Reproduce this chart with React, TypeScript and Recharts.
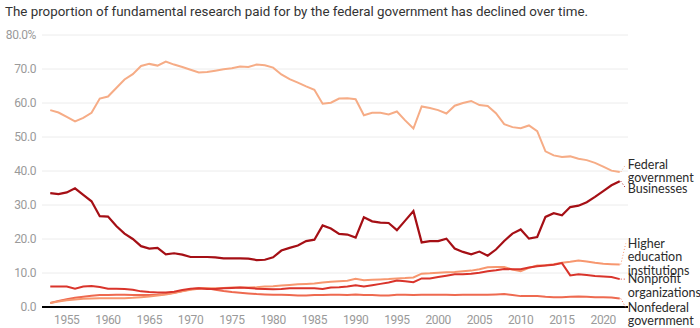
import { LineChart, Line, XAxis, YAxis, CartesianGrid, LabelList } from 'recharts';

const years = [
  1953, 1954, 1955, 1956, 1957, 1958, 1959, 1960, 1961, 1962,
  1963, 1964, 1965, 1966, 1967, 1968, 1969, 1970, 1971, 1972,
  1973, 1974, 1975, 1976, 1977, 1978, 1979, 1980, 1981, 1982,
  1983, 1984, 1985, 1986, 1987, 1988, 1989, 1990, 1991, 1992,
  1993, 1994, 1995, 1996, 1997, 1998, 1999, 2000, 2001, 2002,
  2003, 2004, 2005, 2006, 2007, 2008, 2009, 2010, 2011, 2012,
  2013, 2014, 2015, 2016, 2017, 2018, 2019, 2020, 2021, 2022,
];

const federal = [
  57.9, 57.2, 55.9, 54.6, 55.6, 57.1, 61.3, 61.9, 64.4, 66.9,
  68.5, 70.9, 71.5, 71.0, 72.2, 71.3, 70.6, 69.8, 69.0, 69.1,
  69.5, 69.9, 70.2, 70.7, 70.6, 71.3, 71.1, 70.4, 68.4, 67.0,
  66.0, 64.9, 63.9, 59.8, 60.1, 61.3, 61.4, 61.1, 56.4, 57.1,
  57.1, 56.6, 57.5, 54.9, 52.5, 59.0, 58.5, 57.9, 56.9, 59.2,
  60.0, 60.6, 59.4, 59.1, 57.0, 53.8, 52.9, 52.6, 53.4, 51.7,
  45.8, 44.6, 44.1, 44.3, 43.6, 43.2, 42.4, 41.3, 40.1, 39.7,
];

const businesses = [
  33.5, 33.2, 33.7, 34.9, 33.0, 31.1, 26.7, 26.6, 23.8, 21.6,
  20.0, 17.9, 17.2, 17.4, 15.5, 15.8, 15.4, 14.7, 14.7, 14.7,
  14.6, 14.3, 14.3, 14.3, 14.2, 13.8, 13.9, 14.6, 16.6, 17.4,
  18.1, 19.4, 19.8, 24.0, 23.1, 21.5, 21.3, 20.4, 26.4, 25.2,
  24.8, 24.7, 22.6, 25.4, 28.2, 19.0, 19.4, 19.4, 20.1, 17.2,
  16.2, 15.5, 16.3, 15.1, 16.9, 19.4, 21.6, 22.8, 20.1, 20.6,
  26.5, 27.6, 27.0, 29.4, 29.8, 30.8, 32.4, 34.1, 35.8, 37.0,
];

const higherEd = [
  1.2, 1.6, 2.0, 2.2, 2.4, 2.5, 2.6, 2.6, 2.6, 2.6,
  2.7, 2.9, 3.1, 3.4, 3.7, 4.1, 4.6, 5.1, 5.4, 5.5,
  5.5, 5.6, 5.7, 5.7, 5.7, 5.8, 6.0, 6.1, 6.3, 6.5,
  6.7, 6.8, 6.9, 7.2, 7.4, 7.6, 7.7, 8.3, 7.9, 8.0,
  8.1, 8.2, 8.4, 8.5, 8.7, 9.8, 9.9, 10.1, 10.2, 10.3,
  10.5, 10.7, 11.1, 11.7, 11.8, 11.8, 11.0, 10.5, 11.5, 12.2,
  12.3, 12.6, 13.0, 13.3, 13.7, 13.4, 13.0, 12.7, 12.6, 12.5,
];

const nonprofit = [
  6.0, 6.0, 6.0, 5.4, 6.0, 6.2, 5.9, 5.4, 5.4, 5.3,
  5.1, 4.6, 4.4, 4.3, 4.3, 4.5, 5.0, 5.4, 5.5, 5.3,
  5.3, 5.5, 5.6, 5.7, 5.6, 5.4, 5.3, 5.2, 5.3, 5.5,
  5.5, 5.5, 5.5, 5.3, 5.7, 5.8, 6.0, 6.4, 6.0, 6.4,
  6.8, 7.2, 7.8, 7.6, 7.3, 8.4, 8.4, 8.8, 9.2, 9.6,
  9.6, 9.8, 10.1, 10.5, 10.8, 11.2, 11.1, 11.1, 11.6, 12.0,
  12.2, 12.4, 12.9, 9.3, 9.6, 9.4, 9.1, 9.0, 8.8, 8.2,
];

const nonfederal = [
  1.2, 1.8, 2.3, 2.7, 3.0, 3.3, 3.5, 3.5, 3.6, 3.6,
  3.5, 3.5, 3.5, 3.6, 3.8, 4.2, 4.7, 5.2, 5.5, 5.5,
  5.1, 4.7, 4.4, 4.2, 4.0, 3.8, 3.7, 3.6, 3.6, 3.5,
  3.4, 3.4, 3.5, 3.5, 3.6, 3.6, 3.5, 3.7, 3.5, 3.5,
  3.4, 3.4, 3.6, 3.6, 3.5, 3.6, 3.6, 3.6, 3.6, 3.5,
  3.6, 3.6, 3.6, 3.6, 3.7, 3.8, 3.5, 3.2, 3.2, 3.2,
  3.0, 2.9, 2.9, 3.0, 3.1, 3.0, 2.9, 2.9, 2.8, 2.5,
];

const xTicks = [1955, 1960, 1965, 1970, 1975, 1980, 1985, 1990, 1995, 2000, 2005, 2010, 2015, 2020];
const yTicks = [0, 10, 20, 30, 40, 50, 60, 70, 80];

const title = 'The proportion of fundamental research paid for by the federal government has declined over time.';

const data = years.map((year, i) => ({
  year,
  federal: federal[i],
  businesses: businesses[i],
  higherEd: higherEd[i],
  nonprofit: nonprofit[i],
  nonfederal: nonfederal[i],
}));

const tickStyle = { fill: '#9a9a9a', fontSize: 12, fontFamily: 'Roboto, sans-serif', letterSpacing: -0.4 };

// label drawn at the last point of a line, with a short dotted leader
function endLabel(lines: string[], dy: number, color: string) {
  return (props: any) => {
    const { x, y, index } = props;
    if (index !== years.length - 1 || x == null || y == null) return null;
    const ty = y + dy;
    return (
      <g>
        <line x1={x + 1} y1={y} x2={x + 6} y2={ty} stroke={color} strokeWidth={1} strokeDasharray="1 2" />
        {lines.map((t, i) => (
          <text
            key={t}
            x={x + 8}
            y={ty + i * 13.5}
            dy="0.35em"
            fill="#2b2b2b"
            fontSize={12.5}
            fontFamily="Lato, sans-serif"
          >
            {t}
          </text>
        ))}
      </g>
    );
  };
}

export default function App() {
  return (
    <div style={{ position: 'absolute', left: 0, top: 0, width: 700, height: 328, background: '#fff' }}>
      <svg width={700} height={24} style={{ position: 'absolute', left: 0, top: 0 }}>
        <text
          x={5}
          y={16}
          fontSize={13.5}
          fill="#333"
          fontFamily="Roboto, sans-serif"
          textLength={583}
          lengthAdjust="spacingAndGlyphs"
        >
          {title}
        </text>
      </svg>
      <div style={{ position: 'absolute', left: 0, top: 0 }}>
        <LineChart width={700} height={328} data={data} margin={{ top: 35, right: 72, bottom: 0, left: 0 }}>
          <CartesianGrid vertical={false} stroke="#ececec" />
          <XAxis
            dataKey="year"
            type="number"
            domain={[1952, 2023]}
            ticks={xTicks}
            height={21}
            tickLine={false}
            axisLine={{ stroke: '#000', strokeWidth: 2 }}
            tick={tickStyle}
          />
          <YAxis
            type="number"
            domain={[0, 80]}
            ticks={yTicks}
            width={42}
            tickLine={false}
            axisLine={false}
            tickMargin={0}
            tick={tickStyle}
            tickFormatter={(v: number) => (v === 80 ? `${v.toFixed(1)}%` : v.toFixed(1))}
          />
          <Line dataKey="nonfederal" stroke="#ee6a50" strokeWidth={2} dot={false} isAnimationActive={false}>
            <LabelList dataKey="nonfederal" content={endLabel(['Nonfederal', 'government'], 9, '#ee6a50')} />
          </Line>
          <Line dataKey="higherEd" stroke="#f7976f" strokeWidth={2} dot={false} isAnimationActive={false}>
            <LabelList dataKey="higherEd" content={endLabel(['Higher', 'education', 'institutions'], -21, '#f7976f')} />
          </Line>
          <Line dataKey="nonprofit" stroke="#d9342b" strokeWidth={2} dot={false} isAnimationActive={false}>
            <LabelList dataKey="nonprofit" content={endLabel(['Nonprofit', 'organizations'], 0, '#d9342b')} />
          </Line>
          <Line dataKey="federal" stroke="#f6ac86" strokeWidth={2} dot={false} isAnimationActive={false}>
            <LabelList dataKey="federal" content={endLabel(['Federal', 'government'], -7.5, '#f6ac86')} />
          </Line>
          <Line dataKey="businesses" stroke="#a50f15" strokeWidth={2.2} dot={false} isAnimationActive={false}>
            <LabelList dataKey="businesses" content={endLabel(['Businesses'], 7, '#a50f15')} />
          </Line>
        </LineChart>
      </div>
    </div>
  );
}
